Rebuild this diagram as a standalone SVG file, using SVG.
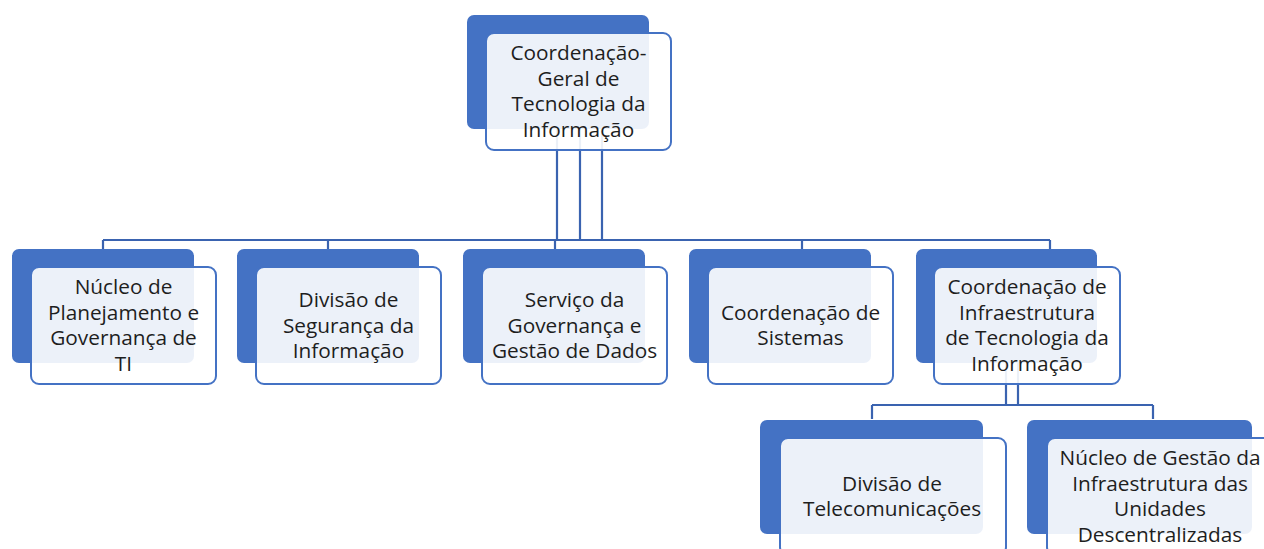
<svg xmlns="http://www.w3.org/2000/svg" width="1264" height="549" viewBox="0 0 1264 549">
<style>
.back{fill:#4472C4;}
.front{fill:#FFFFFF;fill-opacity:0.9;stroke:#4472C4;stroke-width:2;}
.conn{fill:none;stroke:#3A63B0;stroke-width:2.2;}
text{font-family:"Open Sans","Noto Sans","DejaVu Sans",sans-serif;font-size:20.8px;fill:#1E1E1E;text-anchor:middle;}
</style>
<rect width="1264" height="549" fill="#FFFFFF"/>
<g id="connectors">
<path class="conn" d="M557 129V240" stroke-width="3"/>
<path class="conn" d="M580 129V240M602 129V240"/>
<path class="conn" d="M103 240H1050" stroke-width="2.6"/>
<path class="conn" d="M103 240V249M328 240V249M555 240V249M802 240V249M1050 240V249"/>
<path class="conn" d="M1006 363V405M1018 363V405"/>
<path class="conn" d="M872 405H1153M872 405V419M1153 405V419"/>
</g>
<g id="n0">
<rect class="back" x="467" y="15" width="182" height="114" rx="7"/>
<rect class="front" x="486" y="33" width="185" height="117" rx="8"/>
<text x="578.5" y="60">Coordenação-</text>
<text x="578.5" y="85.6">Geral de</text>
<text x="578.5" y="111.2">Tecnologia da</text>
<text x="578.5" y="136.8">Informação</text>
</g>
<g id="n1">
<rect class="back" x="12" y="249" width="182" height="114" rx="7"/>
<rect class="front" x="31" y="267" width="185" height="117" rx="8"/>
<text x="123.5" y="294">Núcleo de</text>
<text x="123.5" y="319.6">Planejamento e</text>
<text x="123.5" y="345.2">Governança de</text>
<text x="123.5" y="370.8">TI</text>
</g>
<g id="n2">
<rect class="back" x="237" y="249" width="182" height="114" rx="7"/>
<rect class="front" x="256" y="267" width="185" height="117" rx="8"/>
<text x="348.5" y="307">Divisão de</text>
<text x="348.5" y="332.6">Segurança da</text>
<text x="348.5" y="358.2">Informação</text>
</g>
<g id="n3">
<rect class="back" x="463" y="249" width="182" height="114" rx="7"/>
<rect class="front" x="482" y="267" width="185" height="117" rx="8"/>
<text x="574.5" y="307">Serviço da</text>
<text x="574.5" y="332.6">Governança e</text>
<text x="574.5" y="358.2">Gestão de Dados</text>
</g>
<g id="n4">
<rect class="back" x="689" y="249" width="182" height="114" rx="7"/>
<rect class="front" x="708" y="267" width="185" height="117" rx="8"/>
<text x="800.5" y="319.7">Coordenação de</text>
<text x="800.5" y="345.3">Sistemas</text>
</g>
<g id="n5">
<rect class="back" x="916" y="249" width="181" height="114" rx="7"/>
<rect class="front" x="934" y="267" width="186" height="117" rx="8"/>
<text x="1027" y="294">Coordenação de</text>
<text x="1027" y="319.6">Infraestrutura</text>
<text x="1027" y="345.2">de Tecnologia da</text>
<text x="1027" y="370.8">Informação</text>
</g>
<g id="n6">
<rect class="back" x="760" y="420" width="223" height="114" rx="7"/>
<rect class="front" x="780" y="438" width="226" height="117" rx="8"/>
<text x="892" y="490.7">Divisão de</text>
<text x="892" y="516.3">Telecomunicações</text>
</g>
<g id="n7">
<rect class="back" x="1027" y="420" width="225" height="114" rx="7"/>
<rect class="front" x="1047" y="438" width="226" height="117" rx="8"/>
<text x="1160" y="465">Núcleo de Gestão da</text>
<text x="1160" y="490.6">Infraestrutura das</text>
<text x="1160" y="516.2">Unidades</text>
<text x="1160" y="541.8">Descentralizadas</text>
</g>
</svg>
